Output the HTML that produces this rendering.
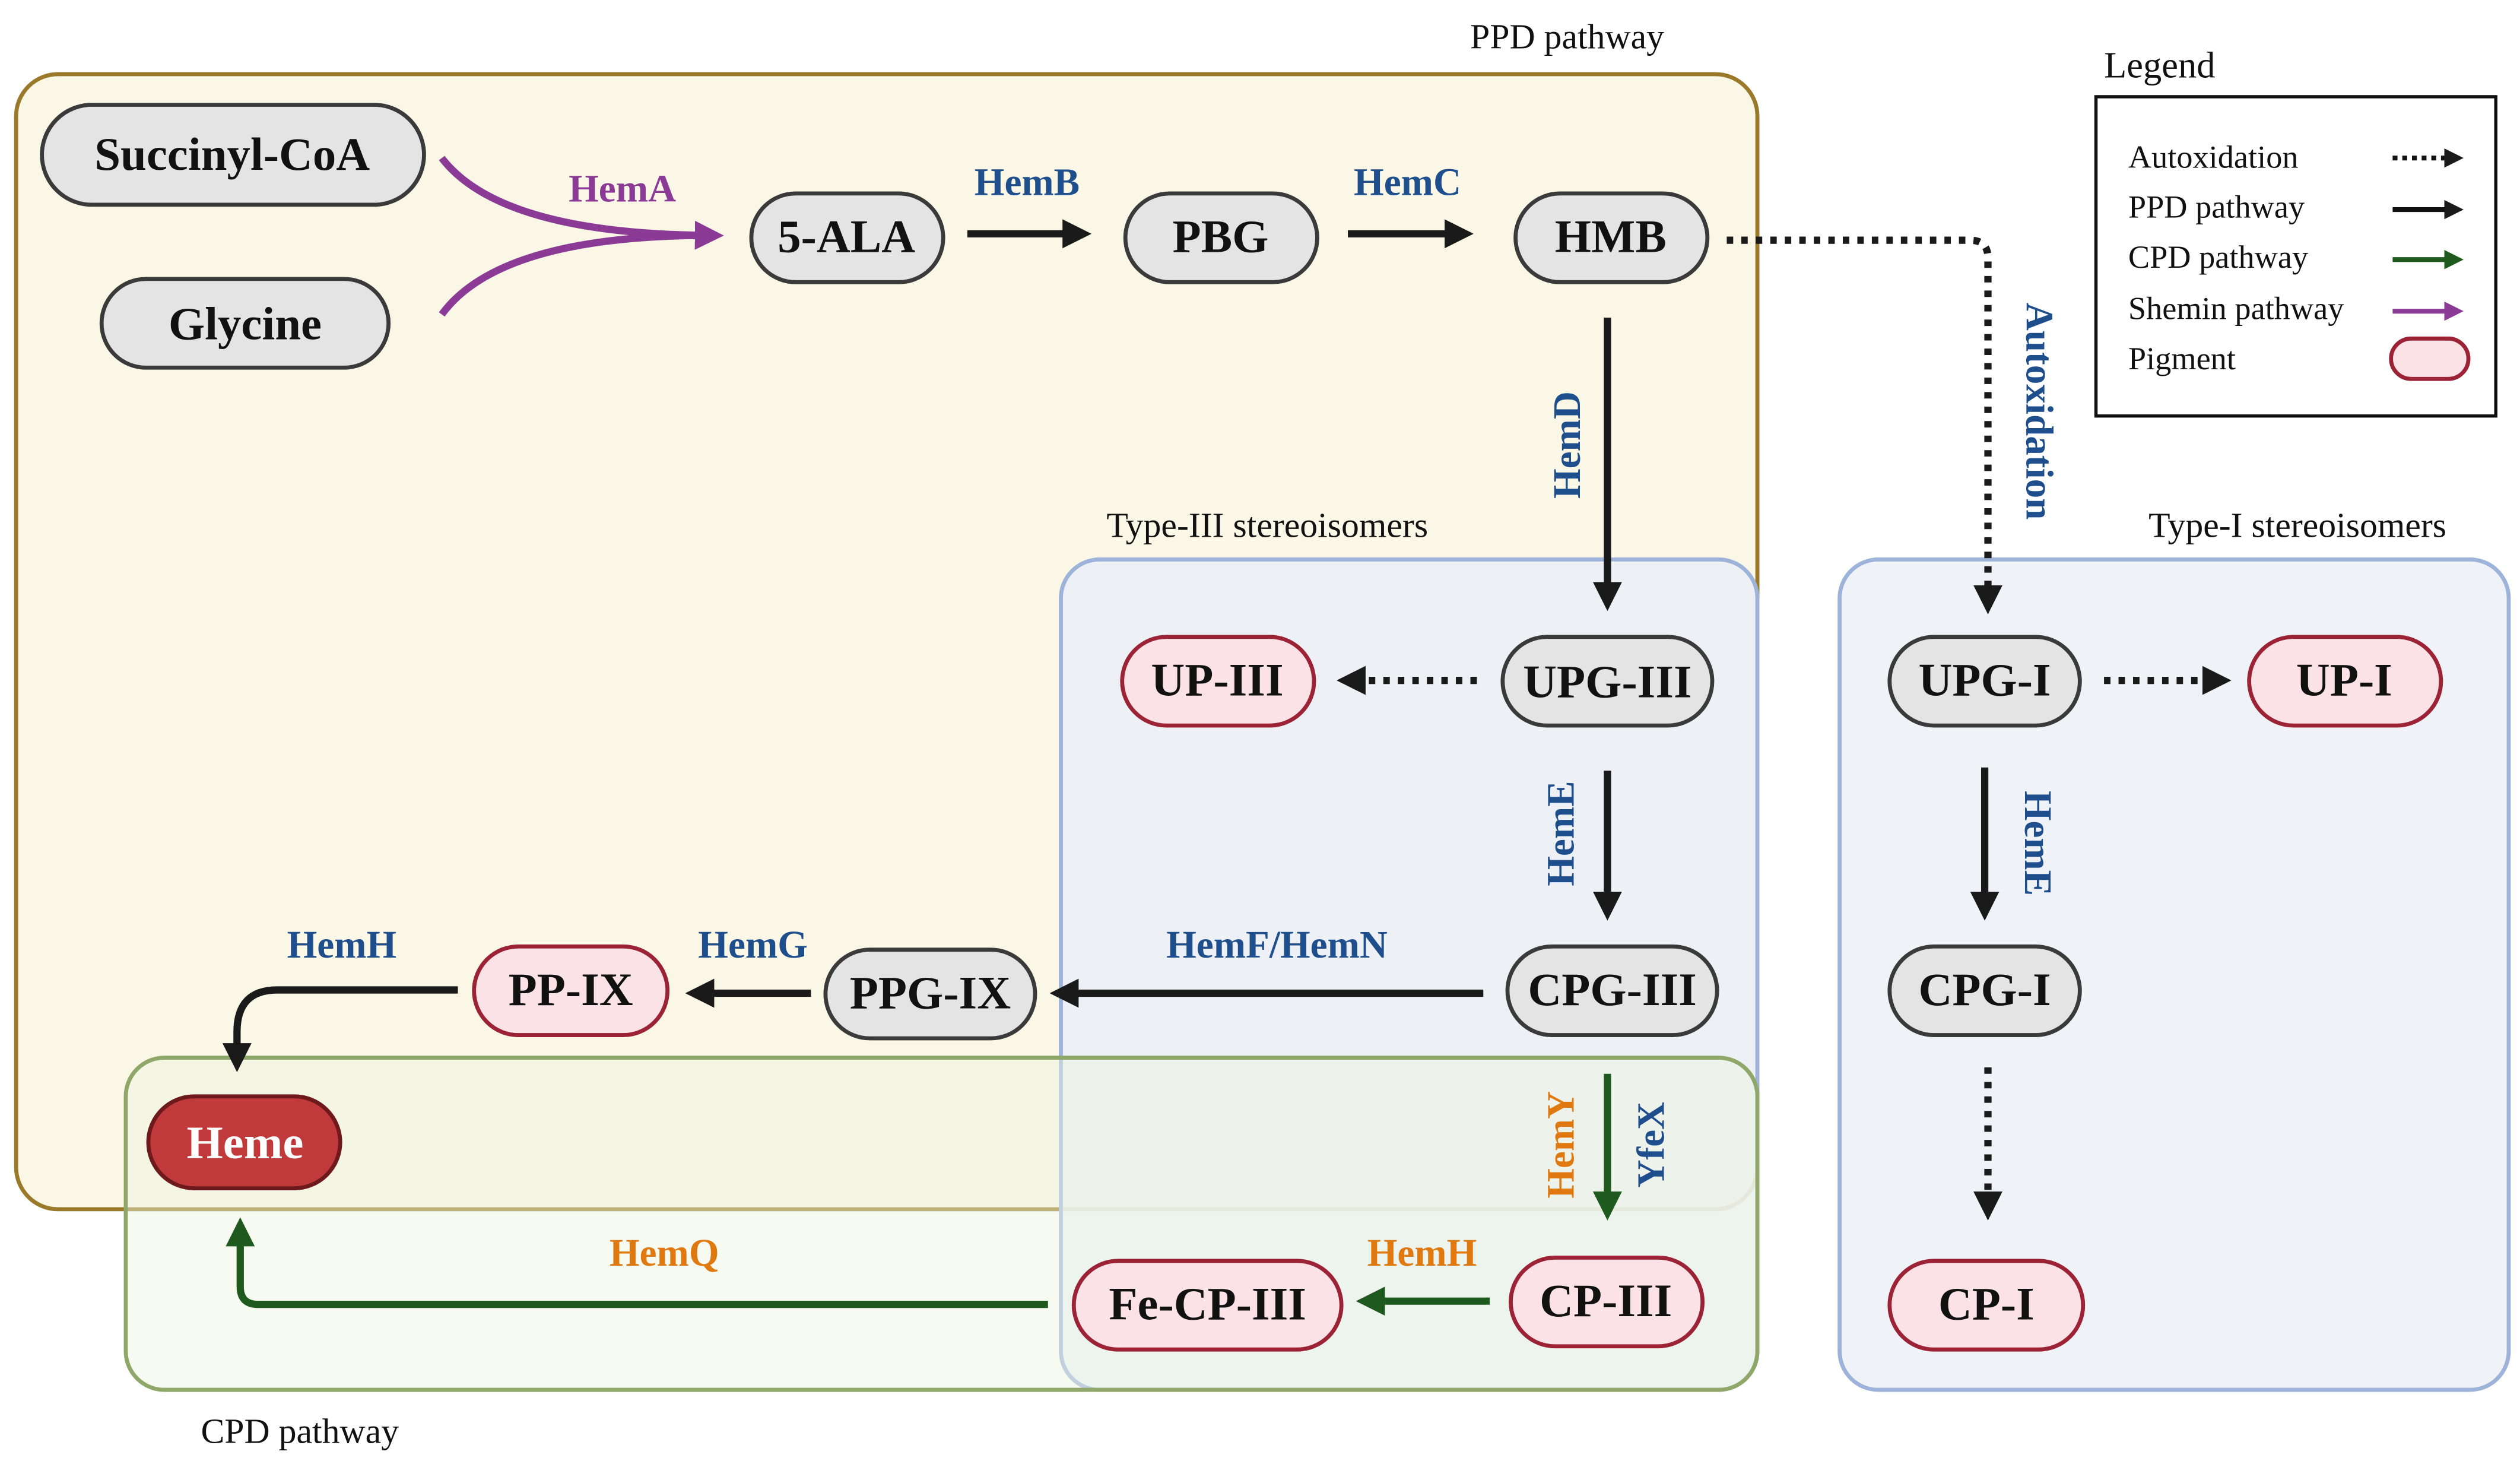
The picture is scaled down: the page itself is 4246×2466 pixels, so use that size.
<!DOCTYPE html>
<html><head><meta charset="utf-8"><style>
html,body{margin:0;padding:0;background:#fff}
svg{display:block}
text{font-family:"Liberation Serif",serif}
.n{fill:#e4e4e4;stroke:#3a3a3a;stroke-width:2.5}
.p{fill:#fbe2e6;stroke:#9b2335;stroke-width:2.5}
.t{font-size:29px;font-weight:bold;text-anchor:middle;dominant-baseline:central;fill:#111}
.b{font-size:24px;font-weight:bold;fill:#1f4e8c}
.o{font-size:24px;font-weight:bold;fill:#e07a10}
.k{stroke:#1a1a1a;stroke-width:4.5;fill:none}
.g{stroke:#1e5a1e;stroke-width:4.5;fill:none}
.d{stroke:#1a1a1a;stroke-width:4.5;fill:none;stroke-dasharray:4 5}
.l{font-size:20px;fill:#111}
</style></head><body>
<svg width="4246" height="2466" viewBox="0 0 1563 908" preserveAspectRatio="none">
<defs>
<marker id="ak" markerWidth="4" markerHeight="4" refX="2" refY="2" orient="auto" markerUnits="strokeWidth"><path d="M0,0 L4,2 L0,4 z" fill="#1a1a1a"/></marker>
<marker id="ag" markerWidth="4" markerHeight="4" refX="2" refY="2" orient="auto" markerUnits="strokeWidth"><path d="M0,0 L4,2 L0,4 z" fill="#1e5a1e"/></marker>
<marker id="ap" markerWidth="4" markerHeight="4" refX="2" refY="2" orient="auto" markerUnits="strokeWidth"><path d="M0,0 L4,2 L0,4 z" fill="#8b3a96"/></marker>
</defs>
<rect x="10" y="46" width="1080" height="704" rx="26" fill="#faf7e6" stroke="#9a7a2a" stroke-width="2.5"/>
<rect x="658" y="347" width="432" height="515" rx="24" fill="#eaf0f7" fill-opacity="0.85" stroke="#9db3d9" stroke-width="2.5"/>
<rect x="78" y="656" width="1012" height="206" rx="24" fill="#eef5e0" fill-opacity="0.45" stroke="#8fa86a" stroke-width="2.5"/>
<rect x="1141" y="347" width="415" height="515" rx="24" fill="#eff3f8" stroke="#9db3d9" stroke-width="2.5"/>
<text x="972" y="30" class="l" text-anchor="middle" style="font-size:22px">PPD pathway</text>
<text x="786" y="333" class="l" text-anchor="middle" style="font-size:22px">Type-III stereoisomers</text>
<text x="1425" y="333" class="l" text-anchor="middle" style="font-size:22px">Type-I stereoisomers</text>
<text x="186" y="895" class="l" text-anchor="middle" style="font-size:22px">CPD pathway</text>
<text x="1305" y="48" class="l" style="font-size:23px">Legend</text>
<rect x="1300" y="60" width="248" height="198" fill="#fff" stroke="#111" stroke-width="2"/>
<text x="1320" y="104" class="l">Autoxidation</text>
<text x="1320" y="135" class="l">PPD pathway</text>
<text x="1320" y="166" class="l">CPD pathway</text>
<text x="1320" y="198" class="l">Shemin pathway</text>
<text x="1320" y="229" class="l">Pigment</text>
<line x1="1484" y1="98" x2="1522" y2="98" stroke="#111" stroke-width="3" stroke-dasharray="3 3" marker-end="url(#ak)"/>
<line x1="1484" y1="130" x2="1522" y2="130" stroke="#111" stroke-width="3" marker-end="url(#ak)"/>
<line x1="1484" y1="161" x2="1522" y2="161" stroke="#1e5a1e" stroke-width="3" marker-end="url(#ag)"/>
<line x1="1484" y1="193" x2="1522" y2="193" stroke="#8b3a96" stroke-width="3" marker-end="url(#ap)"/>
<rect x="1483" y="210" width="48" height="25" rx="12.5" class="p"/>
<path d="M274,98 Q310,145 440,146" stroke="#8b3a96" stroke-width="4.5" fill="none" marker-end="url(#ap)"/>
<path d="M274,195 Q310,146 440,146" stroke="#8b3a96" stroke-width="4.5" fill="none"/>
<text x="386" y="125" class="b" style="fill:#8b3a96" text-anchor="middle">HemA</text>
<line x1="600" y1="145" x2="668" y2="145" class="k" marker-end="url(#ak)"/>
<text x="637" y="121" class="b" text-anchor="middle">HemB</text>
<line x1="836" y1="145" x2="905" y2="145" class="k" marker-end="url(#ak)"/>
<text x="873" y="121" class="b" text-anchor="middle">HemC</text>
<path d="M1071,149 L1222,149 Q1233,149 1233,160 L1233,372" class="d" marker-end="url(#ak)"/>
<text transform="translate(1257,255) rotate(90)" class="b" text-anchor="middle">Autoxidation</text>
<line x1="997" y1="197" x2="997" y2="370" class="k" marker-end="url(#ak)"/>
<text transform="translate(980,276) rotate(-90)" class="b" text-anchor="middle">HemD</text>
<line x1="916" y1="422" x2="838" y2="422" class="d" marker-end="url(#ak)"/>
<line x1="997" y1="478" x2="997" y2="562" class="k" marker-end="url(#ak)"/>
<text transform="translate(976,517) rotate(-90)" class="b" text-anchor="middle">HemE</text>
<line x1="920" y1="616" x2="660" y2="616" class="k" marker-end="url(#ak)"/>
<text x="792" y="594" class="b" text-anchor="middle">HemF/HemN</text>
<line x1="503" y1="616" x2="434" y2="616" class="k" marker-end="url(#ak)"/>
<text x="467" y="594" class="b" text-anchor="middle">HemG</text>
<path d="M284,614 L172,614 Q147,614 147,640 L147,656" class="k" marker-end="url(#ak)"/>
<text x="212" y="594" class="b" text-anchor="middle">HemH</text>
<line x1="997" y1="666" x2="997" y2="748" class="g" marker-end="url(#ag)"/>
<text transform="translate(976,710) rotate(-90)" class="o" text-anchor="middle">HemY</text>
<text transform="translate(1032,710) rotate(-90)" class="b" text-anchor="middle">YfeX</text>
<line x1="924" y1="807" x2="850" y2="807" class="g" marker-end="url(#ag)"/>
<text x="882" y="785" class="o" text-anchor="middle">HemH</text>
<path d="M650,809 L160,809 Q149,809 149,798 L149,764" class="g" marker-end="url(#ag)"/>
<text x="412" y="785" class="o" text-anchor="middle">HemQ</text>
<line x1="1305" y1="422" x2="1375" y2="422" class="d" marker-end="url(#ak)"/>
<line x1="1231" y1="476" x2="1231" y2="562" class="k" marker-end="url(#ak)"/>
<text transform="translate(1256,523) rotate(90)" class="b" text-anchor="middle">HemE</text>
<line x1="1233" y1="662" x2="1233" y2="748" class="d" marker-end="url(#ak)"/>
<g>
<rect x="26" y="65" width="237" height="62" rx="31" class="n"/><text x="144" y="96" class="t">Succinyl-CoA</text>
<rect x="63" y="173" width="178" height="55" rx="27.5" class="n"/><text x="152" y="201" class="t">Glycine</text>
<rect x="466" y="120" width="119" height="55" rx="27.5" class="n"/><text x="525" y="147" class="t">5-ALA</text>
<rect x="698" y="120" width="119" height="55" rx="27.5" class="n"/><text x="757" y="147" class="t">PBG</text>
<rect x="940" y="120" width="119" height="55" rx="27.5" class="n"/><text x="999" y="147" class="t">HMB</text>
<rect x="932" y="395" width="130" height="55" rx="27.5" class="n"/><text x="997" y="423" class="t">UPG-III</text>
<rect x="696" y="395" width="119" height="55" rx="27.5" class="p"/><text x="755" y="422" class="t">UP-III</text>
<rect x="935" y="587" width="130" height="55" rx="27.5" class="n"/><text x="1000" y="614" class="t">CPG-III</text>
<rect x="512" y="589" width="130" height="55" rx="27.5" class="n"/><text x="577" y="616" class="t">PPG-IX</text>
<rect x="294" y="587" width="120" height="55" rx="27.5" class="p"/><text x="354" y="614" class="t">PP-IX</text>
<rect x="92" y="680" width="119" height="57" rx="28.5" fill="#c0393b" stroke="#6e1a1c" stroke-width="2.5"/><text x="152" y="709" class="t" style="fill:#fff">Heme</text>
<rect x="937" y="780" width="119" height="55" rx="27.5" class="p"/><text x="996" y="807" class="t">CP-III</text>
<rect x="666" y="782" width="166" height="55" rx="27.5" class="p"/><text x="749" y="809" class="t">Fe-CP-III</text>
<rect x="1172" y="395" width="118" height="55" rx="27.5" class="n"/><text x="1231" y="422" class="t">UPG-I</text>
<rect x="1395" y="395" width="119" height="55" rx="27.5" class="p"/><text x="1454" y="422" class="t">UP-I</text>
<rect x="1172" y="587" width="118" height="55" rx="27.5" class="n"/><text x="1231" y="614" class="t">CPG-I</text>
<rect x="1172" y="782" width="120" height="55" rx="27.5" class="p"/><text x="1232" y="809" class="t">CP-I</text>
</g>
</svg>
</body></html>
